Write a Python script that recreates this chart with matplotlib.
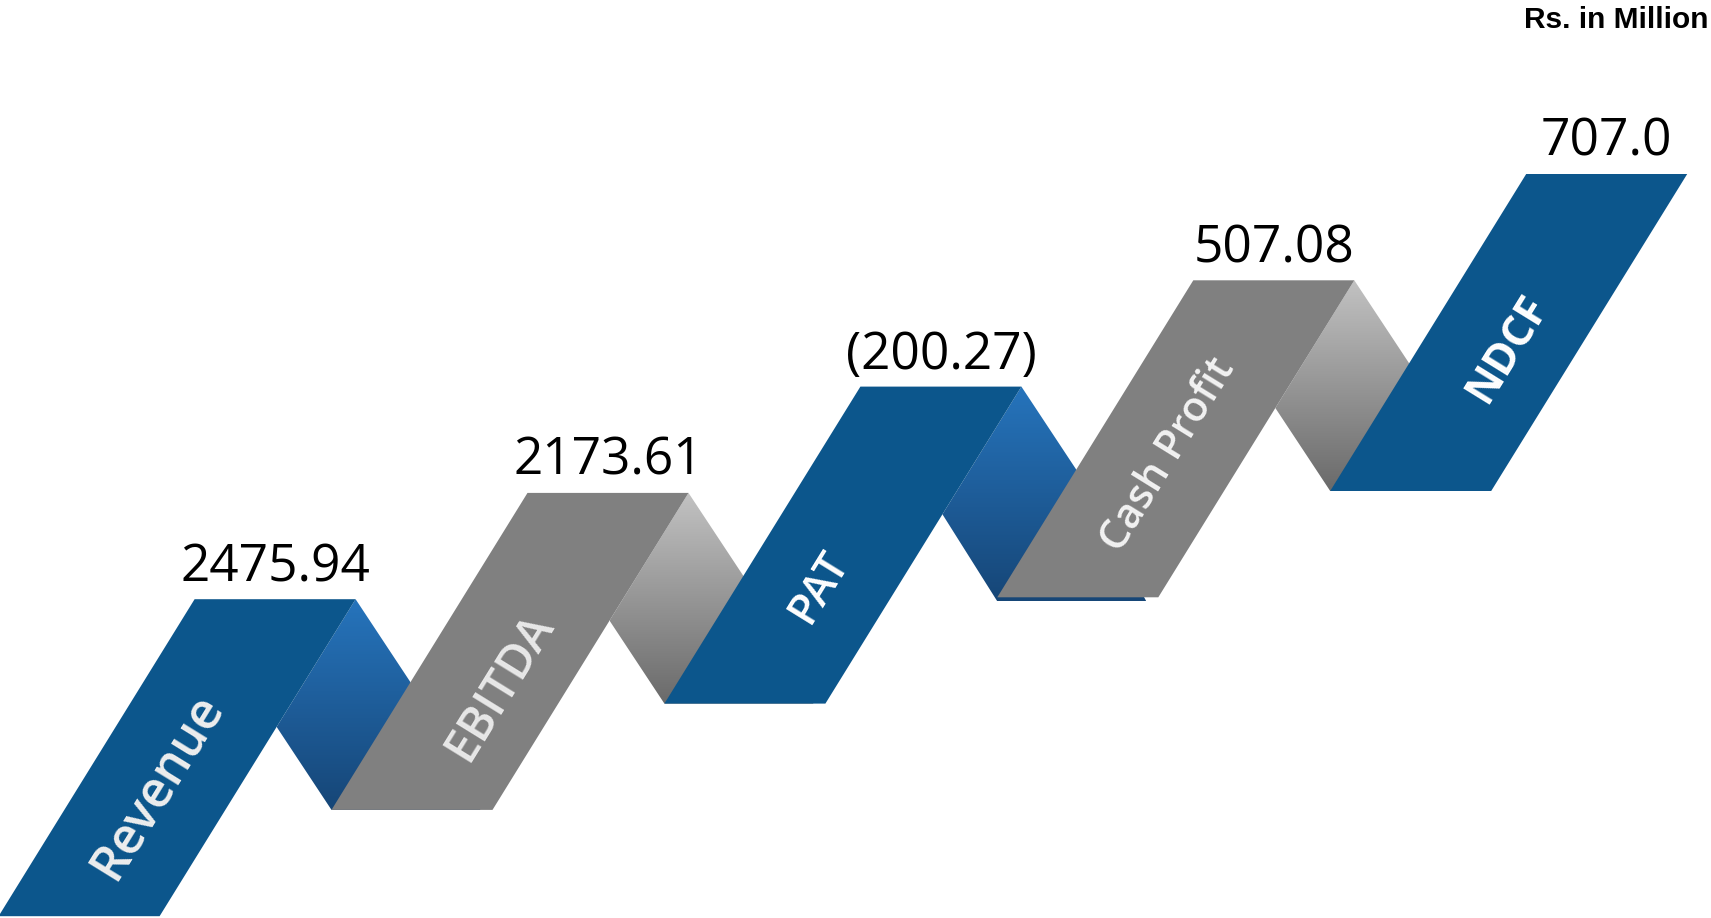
import numpy as np
import matplotlib.pyplot as plt
from matplotlib.patches import Polygon
from matplotlib.colors import LinearSegmentedColormap

# Data (Rs. in Million)
categories = ['Revenue', 'EBITDA', 'PAT', 'Cash Profit', 'NDCF']
values = [2475.94, 2173.61, -200.27, 507.08, 707.0]
value_labels = ['2475.94', '2173.61', '(200.27)', '507.08', '707.0']
unit_label = 'Rs. in Million'

# Styling
blue = '#0C568C'
grey = '#808080'
ribbon_colors = [blue, grey, blue, grey, blue]
fold_colors = [('#2674BC', '#164677'), ('#C2C2C2', '#6A6A6A'),
               ('#2674BC', '#164677'), ('#C2C2C2', '#6A6A6A')]
text_sizes = [36, 34, 32, 30, 31]
text_weights = ['semibold', 'semibold', 'semibold', 'semibold', 'bold']
text_colors = ['#EEEEEE', '#E8E8E8', '#FFFFFF', '#F2F2F2', '#FFFFFF']

# Layout in pixels (staircase of ribbon segments)
W, H = 1711, 918
x0, y0 = 194.6, 599.2          # top-left corner of first segment
step_x, step_y = 332.9, -106.3
rib_w, rib_h, lean = 161, 317, 196
fold_dy = 83
label_pos = [0.59, 0.61, 0.63, 0.55, 0.55]
label_shift = [-2, 12, 2, 2, 8]
fold_drop = [0, 0, 4, 0]

fig = plt.figure(figsize=(W / 100, H / 100), dpi=100)
ax = fig.add_axes([0, 0, 1, 1])
ax.set_xlim(0, W)
ax.set_ylim(H, 0)
ax.axis('off')

n = len(categories)
tops = [(x0 + i * step_x, y0 + i * step_y) for i in range(n)]
angle = np.degrees(np.arctan2(rib_h, lean))

# Folds (gradient) between segments
for i in range(n - 1):
    tx, ty = tops[i][0] + rib_w, tops[i][1]
    bx, by = tops[i + 1][0] - lean, tops[i + 1][1] + rib_h
    a = (by - ty) - fold_dy
    dx = (bx - tx) + lean / rib_h * a
    T = (tx, ty)
    R = (tx + dx, ty + fold_dy)
    B = (bx, by + fold_drop[i])
    L = (bx - dx, by - fold_dy)
    B2 = (bx + rib_w - 12, by + fold_drop[i])
    pts = [T, R, B2, B, L]
    poly = Polygon(pts, closed=True, facecolor='none', edgecolor='none')
    ax.add_patch(poly)
    xs = [p[0] for p in pts]
    ys = [p[1] for p in pts]
    cmap = LinearSegmentedColormap.from_list('f%d' % i, fold_colors[i])
    grad = np.linspace(0, 1, 256).reshape(-1, 1)
    im = ax.imshow(grad, cmap=cmap, aspect='auto', origin='upper',
                   extent=(min(xs), max(xs), max(ys), min(ys)), zorder=1)
    im.set_clip_path(poly)

# Ribbon segments
for i in range(n):
    tlx, ty = tops[i]
    pts = [(tlx, ty), (tlx + rib_w, ty),
           (tlx + rib_w - lean, ty + rib_h), (tlx - lean, ty + rib_h)]
    ax.add_patch(Polygon(pts, closed=True, facecolor=ribbon_colors[i],
                         edgecolor='none', zorder=2))

    f = label_pos[i]
    cx = tlx + rib_w / 2 - lean * f + label_shift[i]
    cy = ty + rib_h * f
    ax.text(cx, cy, categories[i], rotation=angle, rotation_mode='anchor',
            ha='center', va='center', fontsize=text_sizes[i],
            fontweight=text_weights[i], color=text_colors[i],
            family='Open Sans', zorder=3)

    ax.text(tlx + rib_w / 2, ty - 18, value_labels[i], ha='center',
            va='baseline', fontsize=37, color='black', family='Open Sans',
            zorder=3)

ax.text(W - 2, 6, unit_label, ha='right', va='top', fontsize=21.5,
        fontweight='bold', family='Liberation Sans', color='black')

fig.savefig('out.png', dpi=100)
